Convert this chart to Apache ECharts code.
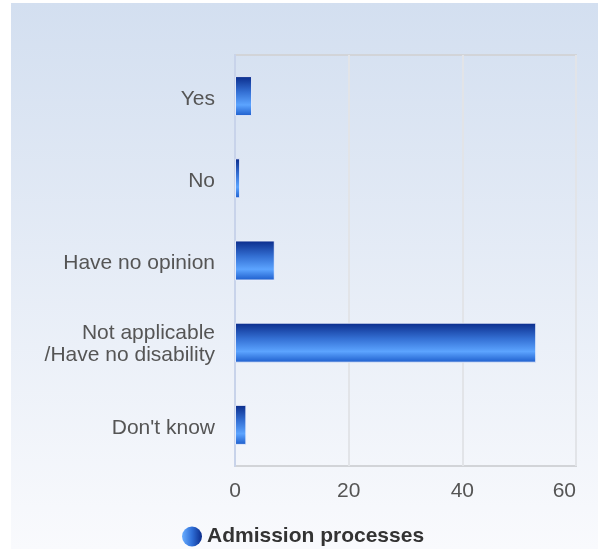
<!DOCTYPE html>
<html>
<head>
<meta charset="utf-8">
<script src="https://cdn.jsdelivr.net/npm/echarts@6/dist/echarts.min.js"></script>
<style>html,body{margin:0;padding:0;background:#fff;}#c{width:598px;height:549px;}</style>
</head>
<body>
<div id="c"></div>
<script>
var categories = ['Yes', 'No', 'Have no opinion', 'Not applicable\n/Have no disability', "Don't know"];
var values = [3, 0.9, 7, 53, 2];
var seriesName = 'Admission processes';
var xTicks = [0, 20, 40, 60];

var chart = echarts.init(document.getElementById('c'), null, {renderer: 'canvas'});
var barGrad = new echarts.graphic.LinearGradient(0, 0, 0, 1, [
  {offset: 0, color: '#0a2b8a'},
  {offset: 0.4, color: '#3470d4'},
  {offset: 0.72, color: '#5ca4ff'},
  {offset: 1, color: '#1c5ccb'}
]);
var iconGrad = new echarts.graphic.LinearGradient(0, 0, 1, 0, [
  {offset: 0, color: '#6aaeff'},
  {offset: 0.5, color: '#2f6fd8'},
  {offset: 1, color: '#0a2b8a'}
]);
var labelFont = 'Liberation Sans, Arial, sans-serif';
chart.setOption({
  animation: false,
  graphic: [{
    type: 'rect', z: -10, silent: true,
    shape: {x: 11, y: 3, width: 587, height: 546},
    style: {fill: new echarts.graphic.LinearGradient(0, 0, 0, 1, [
      {offset: 0, color: '#d3dff0'},
      {offset: 1, color: '#f9fafd'}
    ])}
  }],
  grid: {left: 235, right: 22, top: 55, bottom: 83, show: true, borderColor: '#d2d4d8', borderWidth: 2, backgroundColor: 'transparent'},
  legend: {
    top: 526, left: 182,
    data: [{name: seriesName, icon: 'circle', itemStyle: {color: iconGrad, borderWidth: 0}}],
    itemWidth: 20, itemHeight: 20, itemGap: 10, padding: 0,
    textStyle: {fontSize: 21, fontWeight: 'bold', color: '#333', fontFamily: labelFont}
  },
  xAxis: {
    type: 'value', min: xTicks[0], max: xTicks[xTicks.length - 1], interval: 20,
    axisLine: {show: false}, axisTick: {show: false},
    splitLine: {lineStyle: {color: '#e2e4e8', width: 2}},
    axisLabel: {fontSize: 21, color: '#555', margin: 15, alignMaxLabel: 'right', fontFamily: labelFont}
  },
  yAxis: {
    type: 'category', data: categories, inverse: true,
    axisLine: {show: true, lineStyle: {color: '#c8d3ea', width: 2}},
    axisTick: {show: false},
    axisLabel: {
      margin: 20, align: 'right',
      formatter: function (v) {
        var lines = v.split('\n');
        return lines.map(function (l, i) {
          var tag = i === 0 ? (lines.length > 1 ? 'g' : 'f') : 'a';
          return '{' + tag + '|' + l + '}';
        }).join('\n');
      },
      rich: {
        f: {fontSize: 21, color: '#555', lineHeight: 25, padding: [6, 0, 0, 0], fontFamily: labelFont, align: 'right'},
        g: {fontSize: 21, color: '#555', lineHeight: 25, padding: [10, 0, 0, 0], fontFamily: labelFont, align: 'right'},
        a: {fontSize: 21, color: '#555', lineHeight: 29, fontFamily: labelFont, align: 'right'}
      }
    }
  },
  series: [{
    type: 'bar', name: seriesName, data: values, barWidth: 40,
    itemStyle: {color: barGrad, borderColor: 'rgba(235,240,252,0.9)', borderWidth: 1}
  }]
});
</script>
</body>
</html>
